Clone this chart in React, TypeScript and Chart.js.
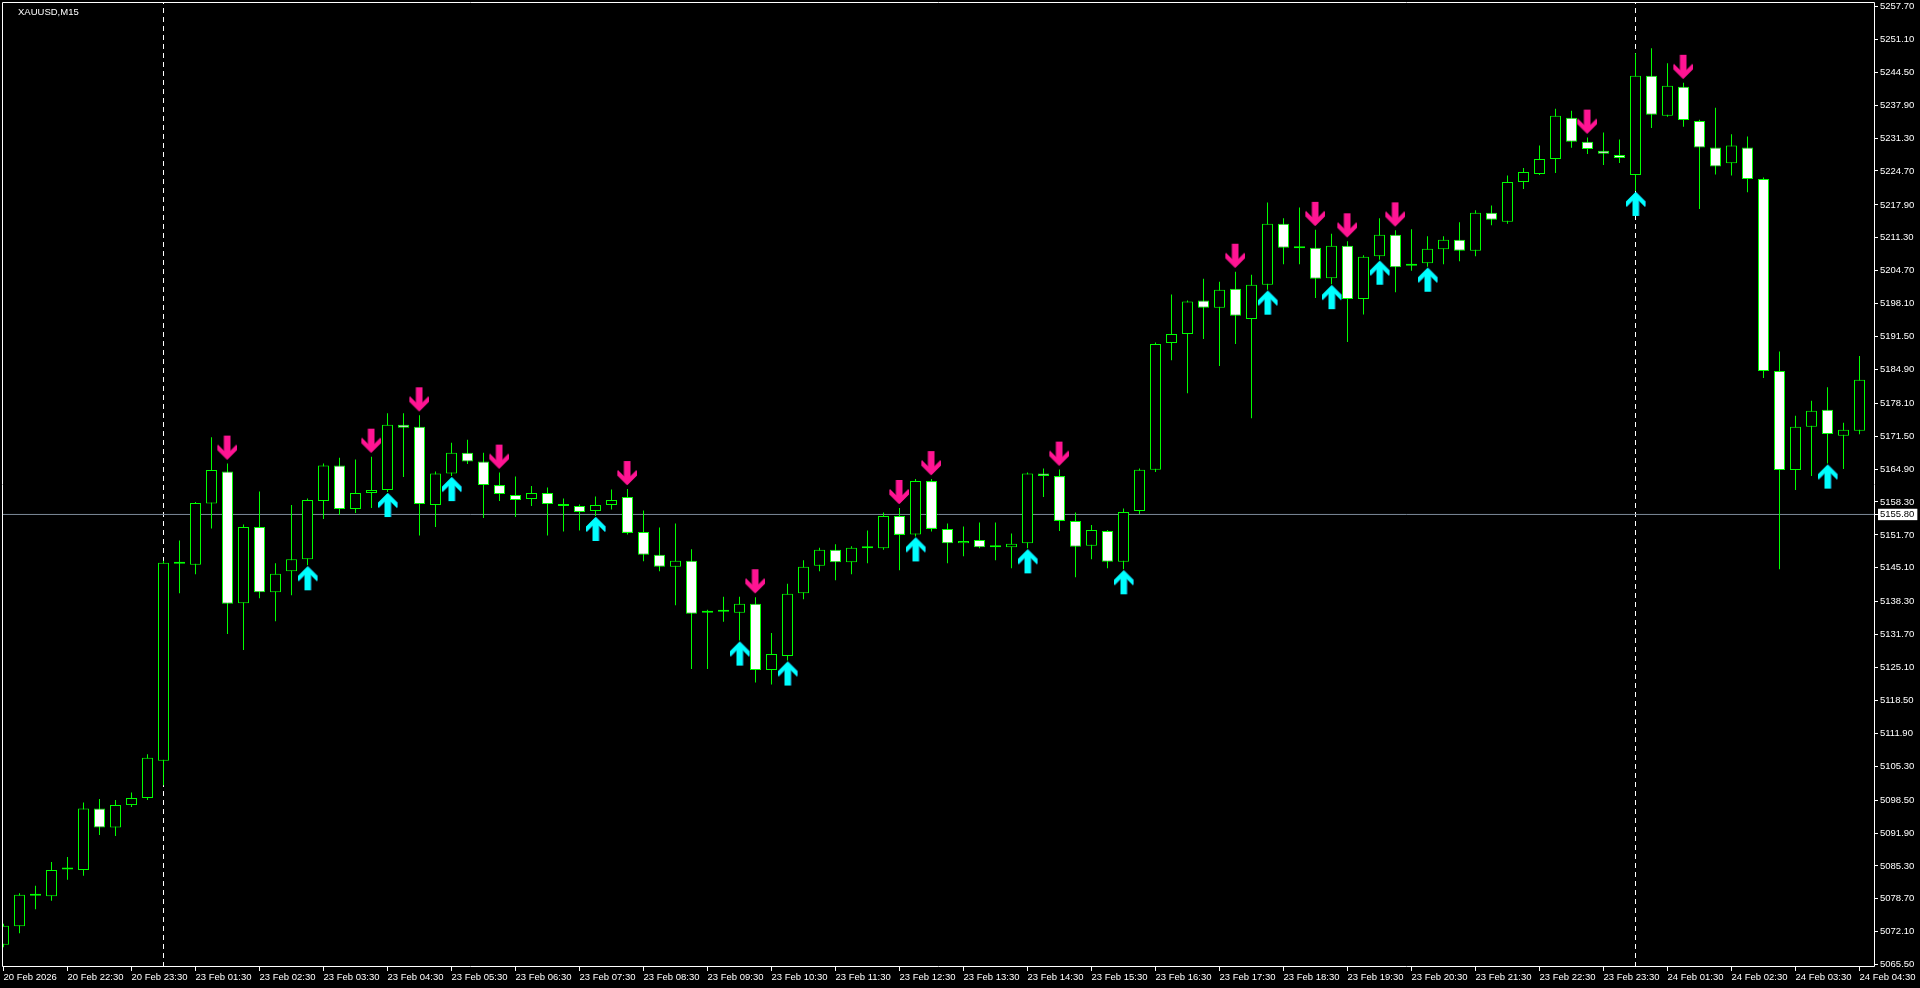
import React, { useEffect, useRef } from 'react';
import { Chart, registerables } from 'chart.js';
Chart.register(...registerables);

const symbolTitle = 'XAUUSD,M15';

const openPrices = [
  5069.5, 5073.2, 5079.4, 5079.2, 5084.6, 5084.5, 5096.8, 5093.0, 5097.5, 5098.9,
  5106.4, 5146.3, 5145.7, 5158.0, 5164.4, 5138.0, 5153.3, 5140.2, 5144.4, 5146.8,
  5158.5, 5165.6, 5156.9, 5160.1, 5160.7, 5173.8, 5173.4, 5157.7, 5164.0, 5168.2,
  5166.4, 5161.7, 5159.7, 5158.9, 5160.1, 5157.9, 5157.5, 5156.5, 5157.7, 5159.3,
  5152.3, 5147.7, 5145.3, 5146.5, 5136.5, 5136.3, 5136.1, 5137.9, 5124.6, 5127.4,
  5140.0, 5145.5, 5148.7, 5146.2, 5149.1, 5149.0, 5155.5, 5151.8, 5162.5, 5152.9,
  5150.0, 5150.7, 5149.2, 5149.2, 5150.0, 5164.0, 5163.5, 5154.5, 5149.5, 5152.5,
  5146.3, 5156.5, 5164.75, 5190.2, 5192.0, 5198.7, 5197.25, 5201.1, 5195.0, 5201.9,
  5214.1, 5209.3, 5209.3, 5203.2, 5209.7, 5199.0, 5207.6, 5211.9, 5206.1, 5206.2,
  5209.0, 5210.9, 5208.7, 5216.3, 5214.5, 5222.5, 5224.1, 5227.1, 5235.4, 5230.55,
  5228.75, 5227.9, 5223.9, 5243.8, 5235.8, 5241.6, 5234.75, 5229.4, 5226.25, 5229.4,
  5223.1, 5184.6, 5164.7, 5173.4, 5176.8, 5171.6, 5172.6,
];

const highPrices = [
  5073.7, 5079.8, 5081.3, 5086.1, 5087.1, 5098.0, 5098.7, 5098.5, 5100.0, 5107.7,
  5146.5, 5150.6, 5158.3, 5171.3, 5166.0, 5153.8, 5160.4, 5146.0, 5157.7, 5159.0,
  5166.0, 5167.2, 5166.8, 5167.4, 5176.1, 5176.1, 5175.7, 5164.4, 5170.2, 5170.8,
  5168.2, 5164.2, 5163.4, 5161.5, 5161.2, 5159.0, 5157.8, 5159.4, 5160.8, 5160.9,
  5156.6, 5153.2, 5154.0, 5148.8, 5136.7, 5139.3, 5139.3, 5139.2, 5132.0, 5141.9,
  5146.6, 5149.1, 5149.8, 5149.4, 5152.6, 5156.2, 5157.1, 5162.9, 5162.9, 5154.0,
  5153.4, 5154.2, 5154.2, 5152.0, 5164.2, 5165.0, 5164.8, 5156.2, 5153.7, 5152.7,
  5157.0, 5165.0, 5190.3, 5199.9, 5198.7, 5203.1, 5202.5, 5204.5, 5203.9, 5218.4,
  5215.2, 5217.4, 5212.9, 5212.1, 5210.6, 5207.8, 5215.2, 5212.8, 5213.0, 5211.6,
  5211.6, 5214.4, 5216.8, 5217.8, 5223.8, 5225.3, 5229.8, 5237.2, 5236.8, 5231.4,
  5232.4, 5231.0, 5248.3, 5249.3, 5246.3, 5242.4, 5235.0, 5237.4, 5232.05, 5231.6,
  5223.4, 5188.5, 5175.6, 5178.6, 5181.3, 5174.2, 5187.6,
];

const lowPrices = [
  5069.0, 5071.8, 5076.6, 5078.3, 5082.5, 5083.3, 5091.5, 5091.3, 5097.1, 5098.5,
  5101.5, 5140.0, 5143.8, 5153.0, 5131.8, 5128.6, 5139.0, 5134.4, 5139.6, 5145.6,
  5154.9, 5155.7, 5156.1, 5157.1, 5160.3, 5163.3, 5151.6, 5153.3, 5163.5, 5165.9,
  5155.1, 5158.5, 5155.3, 5157.5, 5151.6, 5152.4, 5152.6, 5155.5, 5156.8, 5151.8,
  5146.4, 5144.4, 5137.6, 5124.8, 5124.8, 5134.3, 5130.5, 5122.1, 5121.7, 5126.5,
  5138.8, 5144.4, 5142.6, 5143.8, 5146.0, 5148.7, 5144.6, 5151.4, 5152.4, 5146.0,
  5147.4, 5149.0, 5146.6, 5145.0, 5149.0, 5159.3, 5152.5, 5143.2, 5146.8, 5145.0,
  5144.8, 5155.9, 5164.3, 5186.75, 5180.1, 5191.0, 5185.6, 5190.0, 5175.1, 5200.9,
  5206.0, 5206.0, 5199.2, 5202.0, 5190.4, 5195.9, 5206.9, 5200.4, 5204.7, 5205.5,
  5206.0, 5206.6, 5207.6, 5213.8, 5214.1, 5221.1, 5223.9, 5224.3, 5229.35, 5228.1,
  5225.9, 5226.3, 5220.7, 5233.3, 5235.6, 5233.6, 5217.1, 5224.0, 5223.8, 5220.45,
  5183.15, 5144.8, 5160.7, 5163.5, 5166.0, 5164.9, 5171.9,
];

const closePrices = [
  5073.3, 5079.5, 5079.3, 5084.5, 5084.8, 5096.8, 5093.0, 5097.5, 5098.9, 5107.0,
  5146.1, 5145.9, 5158.1, 5164.7, 5137.9, 5153.3, 5140.2, 5143.9, 5146.8, 5158.7,
  5165.6, 5156.9, 5160.1, 5160.7, 5173.8, 5173.2, 5157.9, 5164.0, 5168.2, 5166.4,
  5161.7, 5159.9, 5158.7, 5160.1, 5157.9, 5157.5, 5156.3, 5157.7, 5158.7, 5152.1,
  5147.7, 5145.3, 5146.5, 5135.9, 5136.1, 5136.4, 5137.9, 5124.6, 5127.8, 5139.9,
  5145.3, 5148.7, 5146.2, 5149.1, 5149.0, 5155.5, 5151.7, 5162.5, 5152.9, 5150.0,
  5150.5, 5149.2, 5149.3, 5149.9, 5164.0, 5163.5, 5154.5, 5149.3, 5152.7, 5146.3,
  5156.3, 5164.75, 5190.0, 5192.0, 5198.5, 5197.25, 5200.9, 5195.65, 5201.9, 5214.1,
  5209.3, 5209.2, 5203.1, 5209.7, 5199.0, 5207.5, 5211.9, 5205.4, 5205.7, 5209.1,
  5210.9, 5208.7, 5216.3, 5214.9, 5222.5, 5224.5, 5227.1, 5235.8, 5230.55, 5229.1,
  5228.15, 5227.3, 5243.8, 5236.0, 5241.8, 5234.95, 5229.4, 5225.6, 5229.8, 5223.1,
  5184.6, 5164.7, 5173.4, 5176.6, 5171.95, 5172.8, 5182.8,
];

const timeLabels = [
  '20 Feb 2026', '20 Feb 22:30', '20 Feb 23:30',
  '23 Feb 01:30', '23 Feb 02:30', '23 Feb 03:30', '23 Feb 04:30', '23 Feb 05:30',
  '23 Feb 06:30', '23 Feb 07:30', '23 Feb 08:30', '23 Feb 09:30', '23 Feb 10:30',
  '23 Feb 11:30', '23 Feb 12:30', '23 Feb 13:30', '23 Feb 14:30', '23 Feb 15:30',
  '23 Feb 16:30', '23 Feb 17:30', '23 Feb 18:30', '23 Feb 19:30', '23 Feb 20:30',
  '23 Feb 21:30', '23 Feb 22:30', '23 Feb 23:30',
  '24 Feb 01:30', '24 Feb 02:30', '24 Feb 03:30', '24 Feb 04:30',
];
const barsPerTimeLabel = 4;

const downArrowIdx = [14, 23, 26, 31, 39, 47, 56, 58, 66, 77, 82, 84, 87, 99, 105];
const upArrowIdx = [19, 24, 28, 37, 46, 49, 57, 64, 70, 79, 83, 86, 89, 102, 114];
const daySeparatorIdx = [10, 102];

const priceTicks = [
  5257.7, 5251.1, 5244.5, 5237.9, 5231.3, 5224.7, 5217.9, 5211.3, 5204.7, 5198.1,
  5191.5, 5184.9, 5178.1, 5171.5, 5164.9, 5158.3, 5151.7, 5145.1, 5138.3, 5131.7,
  5125.1, 5118.5, 5111.9, 5105.3, 5098.5, 5091.9, 5085.3, 5078.7, 5072.1, 5065.5,
];
const currentPrice = 5155.8;

const Y_MIN = 5065.02;
const Y_MAX = 5258.6;
const X_MIN = -0.09375;
const X_MAX = 116.96875;

const LIME = '#00FF00';
const FONT_FAMILY = "'Liberation Sans', Arial, sans-serif";
const FONT_SIZE = 9.5;

function makeArrow(up: boolean, fill: string, shade: string): HTMLCanvasElement {
  const gap = up ? 1 : 4;
  const len = 24;
  const W = 21;
  const H = 2 * (len + gap + 1);
  const c = document.createElement('canvas');
  c.width = W;
  c.height = H;
  const g = c.getContext('2d') as CanvasRenderingContext2D;
  const cx = W / 2;
  const cy = H / 2;
  const s = up ? 1 : -1;
  const tipY = cy + s * gap;
  const pts = [
    [0, 0], [9.5, 9.5], [9.5, 15], [3, 8.5], [3, len],
    [-3, len], [-3, 8.5], [-9.5, 15], [-9.5, 9.5],
  ];
  const path = (dx: number) => {
    g.beginPath();
    pts.forEach(([px, py], i) => {
      const X = cx + px + dx;
      const Y = tipY + s * py;
      if (i === 0) g.moveTo(X, Y);
      else g.lineTo(X, Y);
    });
    g.closePath();
  };
  path(up ? 1 : -1);
  g.fillStyle = shade;
  g.fill();
  path(0);
  g.fillStyle = fill;
  g.fill();
  return c;
}

const bgPlugin = {
  id: 'bg',
  beforeDraw(chart: any) {
    const { ctx, width, height } = chart;
    ctx.save();
    ctx.fillStyle = '#000';
    ctx.fillRect(0, 0, width, height);
    ctx.restore();
  },
};

const framePlugin = {
  id: 'frame',
  afterDraw(chart: any) {
    const { ctx, chartArea } = chart;
    const { left, top, right, bottom } = chartArea;
    ctx.save();
    ctx.strokeStyle = '#FFFFFF';
    ctx.lineWidth = 1;
    ctx.beginPath();
    ctx.moveTo(left + 0.5, bottom - 0.5);
    ctx.lineTo(left + 0.5, top + 0.5);
    ctx.lineTo(right - 0.5, top + 0.5);
    ctx.lineTo(right - 0.5, bottom - 0.5);
    ctx.lineTo(left + 0.5, bottom - 0.5);
    ctx.stroke();
    ctx.restore();
  },
};

export default function App() {
  const ref = useRef<HTMLCanvasElement>(null);

  useEffect(() => {
    document.body.style.margin = '0';
    document.body.style.background = '#000';
    const canvas = ref.current as HTMLCanvasElement;

    const downArrow = makeArrow(false, '#FF1493', '#A0105E');
    const upArrow = makeArrow(true, '#00FFFF', '#1480A8');

    const wickData = openPrices.map((_, i) => ({ x: i, y: [lowPrices[i], highPrices[i]] }));
    const bodyData = openPrices.map((o, i) => ({ x: i, y: [o, closePrices[i]] }));
    const bodyColors = openPrices.map((o, i) => (closePrices[i] >= o ? '#000000' : '#FFFFFF'));

    const separatorSets = daySeparatorIdx.map((xi) => ({
      type: 'line' as const,
      data: [{ x: xi, y: Y_MIN }, { x: xi, y: Y_MAX }],
      borderColor: '#FFFFFF',
      borderWidth: 1,
      borderDash: [5, 4],
      pointRadius: 0,
      order: 6,
    }));

    const chart = new Chart(canvas, {
      type: 'bar',
      data: {
        datasets: [
          ...separatorSets,
          {
            type: 'line',
            data: [{ x: X_MIN, y: currentPrice }, { x: X_MAX, y: currentPrice }],
            borderColor: '#7C8A99',
            borderWidth: 1,
            pointRadius: 0,
            order: 5,
          },
          {
            type: 'bar',
            data: wickData,
            backgroundColor: LIME,
            borderWidth: 0,
            barThickness: 1,
            grouped: false,
            inflateAmount: 0,
            order: 3,
          },
          {
            type: 'bar',
            data: bodyData,
            backgroundColor: bodyColors,
            borderColor: LIME,
            borderWidth: 1,
            borderSkipped: false,
            barThickness: 11,
            minBarLength: 2,
            grouped: false,
            inflateAmount: 0,
            order: 2,
          },
          {
            type: 'line',
            data: downArrowIdx.map((i) => ({ x: i, y: highPrices[i] })),
            showLine: false,
            pointStyle: downArrow,
            pointRadius: 1,
            order: 1,
          },
          {
            type: 'line',
            data: upArrowIdx.map((i) => ({ x: i, y: lowPrices[i] })),
            showLine: false,
            pointStyle: upArrow,
            pointRadius: 1,
            order: 1,
          },
        ] as any,
      },
      options: {
        animation: false,
        responsive: false,
        devicePixelRatio: 1,
        events: [],
        layout: { autoPadding: false, padding: { left: 2, top: 2, right: 0, bottom: 0 } },
        plugins: {
          legend: { display: false },
          tooltip: { enabled: false },
          title: { display: false },
        },
        scales: {
          x: {
            type: 'linear',
            min: X_MIN,
            max: X_MAX,
            offset: false,
            afterBuildTicks: (scale: any) => {
              scale.ticks = timeLabels.map((_, j) => ({ value: j * barsPerTimeLabel }));
            },
            afterFit: (scale: any) => {
              scale.height = 21;
              scale.paddingLeft = 0;
              scale.paddingRight = 0;
            },
            ticks: {
              autoSkip: false,
              maxRotation: 0,
              minRotation: 0,
              align: 'start',
              padding: 1,
              color: '#FFFFFF',
              font: { family: FONT_FAMILY, size: FONT_SIZE },
              callback: (_v: any, i: number) => timeLabels[i],
            },
            grid: {
              drawOnChartArea: false,
              drawTicks: true,
              tickLength: 4,
              color: '#FFFFFF',
              offset: false,
            },
            border: { display: false },
          },
          y: {
            type: 'linear',
            position: 'right',
            min: Y_MIN,
            max: Y_MAX,
            afterBuildTicks: (scale: any) => {
              scale.ticks = [...priceTicks, currentPrice].map((v) => ({ value: v }));
            },
            afterFit: (scale: any) => {
              scale.width = 45;
              scale.paddingTop = 0;
              scale.paddingBottom = 0;
            },
            ticks: {
              autoSkip: false,
              padding: 2,
              font: { family: FONT_FAMILY, size: FONT_SIZE },
              color: (ctx: any) => (ctx.tick && ctx.tick.value === currentPrice ? '#000000' : '#FFFFFF'),
              showLabelBackdrop: true,
              backdropColor: (ctx: any) =>
                ctx.tick && ctx.tick.value === currentPrice ? '#FFFFFF' : 'rgba(0,0,0,0)',
              backdropPadding: { top: 0, bottom: 0, left: 2, right: 3 },
              callback: (v: any) => Number(v).toFixed(2),
            },
            grid: {
              drawOnChartArea: false,
              drawTicks: true,
              tickLength: 3,
              color: '#FFFFFF',
            },
            border: { display: false },
          },
        },
      } as any,
      plugins: [bgPlugin, framePlugin],
    });

    return () => chart.destroy();
  }, []);

  return (
    <div
      style={{
        position: 'fixed',
        left: 0,
        top: 0,
        width: 1920,
        height: 988,
        background: '#000',
        overflow: 'hidden',
      }}
    >
      <canvas ref={ref} width={1920} height={988} style={{ display: 'block', width: 1920, height: 988 }} />
      <div
        style={{
          position: 'absolute',
          left: 18,
          top: 6,
          color: '#FFFFFF',
          font: `${FONT_SIZE}px ${FONT_FAMILY}`,
          whiteSpace: 'nowrap',
        }}
      >
        {symbolTitle}
      </div>
    </div>
  );
}
